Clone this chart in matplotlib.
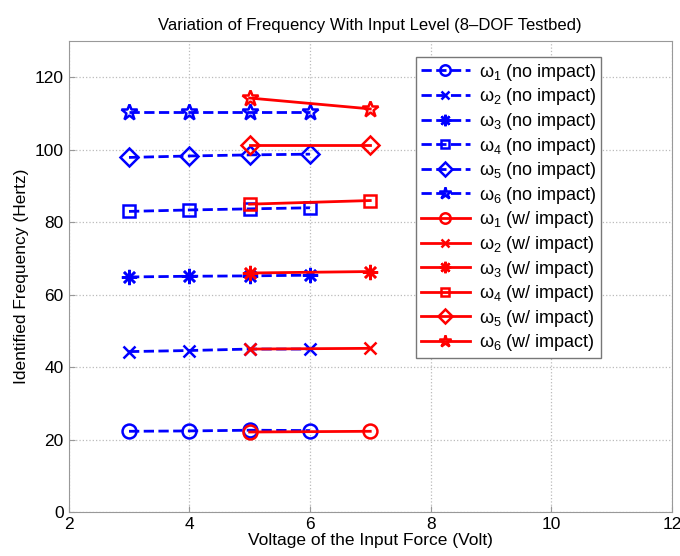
import matplotlib
matplotlib.use("Agg")
import matplotlib.pyplot as plt

plt.rcParams['font.family'] = ['Liberation Sans', 'DejaVu Sans']
plt.rcParams['mathtext.fontset'] = 'custom'
plt.rcParams['mathtext.rm'] = 'Liberation Sans'
plt.rcParams['mathtext.it'] = 'Liberation Sans'

# Data
x_no = [3, 4, 5, 6]
x_w = [5, 7]
no_impact = {
    1: [22.3, 22.4, 22.6, 22.5],
    2: [44.3, 44.6, 45.0, 45.0],
    3: [64.9, 65.1, 65.2, 65.4],
    4: [83.0, 83.4, 83.7, 84.0],
    5: [97.9, 98.3, 98.6, 98.8],
    6: [110.4, 110.4, 110.4, 110.4],
}
w_impact = {
    1: [22.1, 22.3],
    2: [45.0, 45.2],
    3: [66.0, 66.4],
    4: [85.0, 86.0],
    5: [101.2, 101.2],
    6: [114.3, 111.3],
}
markers = {1: 'o', 2: 'x', 3: (8, 2, 0), 4: 's', 5: 'D', 6: '*'}
msizes = {1: 10, 2: 8, 3: 11, 4: 8, 5: 9, 6: 12}

fig = plt.figure(figsize=(6.8, 5.56), dpi=100)
ax = fig.add_axes([0.101, 0.079, 0.887, 0.847])

for k in range(1, 7):
    ax.plot(x_no, no_impact[k], color='#0000ff', linestyle='--', linewidth=2,
            marker=markers[k], markersize=msizes[k], markerfacecolor='none',
            markeredgecolor='#0000ff', markeredgewidth=1.8,
            label=r'$\omega_{%d}$ (no impact)' % k)
for k in range(1, 7):
    ax.plot(x_w, w_impact[k], color='#ff0000', linestyle='-', linewidth=2,
            marker=markers[k], markersize=msizes[k], markerfacecolor='none',
            markeredgecolor='#ff0000', markeredgewidth=1.8,
            label=r'$\omega_{%d}$ (w/ impact)' % k)

ax.set_xlim(2, 12)
ax.set_ylim(0, 130)
ax.set_xticks([2, 4, 6, 8, 10, 12])
ax.set_yticks([0, 20, 40, 60, 80, 100, 120])
ax.grid(True, linestyle=':', color='#bbbbbb', linewidth=0.9)
for s in ax.spines.values():
    s.set_color('#999999')
ax.tick_params(colors='#999999', labelcolor='black', labelsize=12.5, direction='in', length=4)

ax.set_title('Variation of Frequency With Input Level (8\u2013DOF Testbed)', fontsize=12, pad=8)
ax.set_xlabel('Voltage of the Input Force (Volt)', fontsize=12.5, labelpad=1)
ax.set_ylabel('Identified Frequency (Hertz)', fontsize=12.5, labelpad=4)

leg = ax.legend(loc='upper right', bbox_to_anchor=(0.882, 0.966), fontsize=13,
                numpoints=1, handlelength=2.7, handletextpad=0.5, labelspacing=0.2,
                borderpad=0.25, fancybox=False, framealpha=1, borderaxespad=0,
                markerscale=0.75)
leg.get_frame().set_edgecolor('#777777')
leg.get_frame().set_linewidth(1.0)

fig.savefig('out.png', dpi=100)
